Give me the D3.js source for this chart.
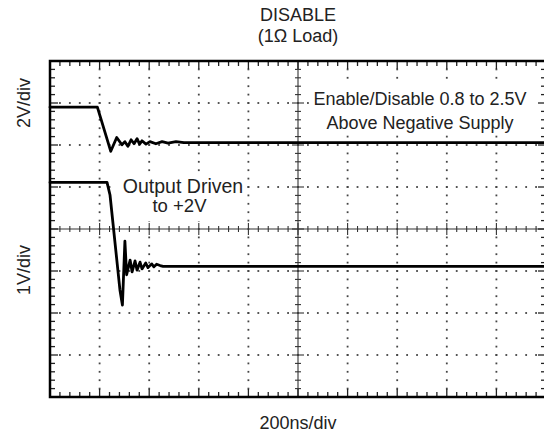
<!DOCTYPE html>
<html><head><meta charset="utf-8">
<script src="https://cdn.jsdelivr.net/npm/d3@7"></script>
<style>
body{margin:0;background:#fff}
svg{display:block}
text{font-family:"Liberation Sans",Arial,Helvetica,sans-serif;fill:#222}
</style>
</head><body>
<svg id="c" width="544" height="435"></svg>
<script>
// ---- chart data ----
const titleLines = ["DISABLE", "(1Ω Load)"];
const xLabel = "200ns/div";
const yLabels = ["2V/div", "1V/div"];
const nsPerDiv = 200;
const xDivs = 10;
const yDivs = 8;
const minorPerDiv = 5;

// Enable/Disable input (top trace, 2V/div)
const topTimeNs = [0, 191, 245, 269, 290, 302, 314, 327, 339, 351, 361, 371, 387, 403, 427, 452, 476, 508, 540, 573, 2000];
const topVolts  = [2.5, 2.5, 0.40, 1.06, 0.71, 0.86, 0.64, 0.95, 0.76, 1.00, 0.74, 0.90, 0.74, 0.86, 0.76, 0.86, 0.79, 0.86, 0.81, 0.81, 0.81];
const topVoltsPerDiv = 2;
const topOffsetDiv = 1.65;

// Output (bottom trace, 1V/div)
const botTimeNs = [0, 230, 242, 282, 292, 302, 309, 323, 331, 343, 351, 363, 371, 386, 395, 410, 419, 430, 444, 456, 2000];
const botVolts  = [2.0, 2.0, 1.70, -0.56, -0.92, 0.60, -0.20, 0.15, -0.13, 0.13, -0.09, 0.10, -0.06, 0.08, -0.03, 0.06, -0.01, 0.05, 0.02, 0, 0];
const botVoltsPerDiv = 1;
const botOffsetDiv = -0.89;

const noteA = ["Enable/Disable 0.8 to 2.5V", "Above Negative Supply"];
const noteB = ["Output Driven", "to +2V"];

// ---- drawing ----
const svg = d3.select("#c");
const x = d3.scaleLinear().domain([0, nsPerDiv * xDivs]).range([50, 546]);
const y = d3.scaleLinear().domain([-yDivs / 2, yDivs / 2]).range([397, 61]);
const [x0, x1] = x.range();
const [y0, y1] = y.range(); // y0 bottom, y1 top

const xMajor = d3.range(0, nsPerDiv * xDivs + 1, nsPerDiv);
const xMinor = d3.range(0, nsPerDiv * xDivs + 1, nsPerDiv / minorPerDiv);
const yMajor = d3.range(-yDivs / 2, yDivs / 2 + 0.001, 1);
const yMinor = d3.range(-yDivs / 2, yDivs / 2 + 0.001, 1 / minorPerDiv);
const xMid = nsPerDiv * xDivs / 2;

// grid dots
const dots = [];
xMajor.filter(v => v > 0 && v < nsPerDiv * xDivs && v !== xMid).forEach(xv => {
  yMinor.forEach(yv => dots.push([x(xv), y(yv)]));
});
yMajor.filter(v => v > -yDivs / 2 && v < yDivs / 2 && v !== 0).forEach(yv => {
  xMinor.forEach(xv => dots.push([x(xv), y(yv)]));
});
svg.append("g").selectAll("rect").data(dots).join("rect")
  .attr("x", d => d[0] - 0.9).attr("y", d => d[1] - 0.9)
  .attr("width", 1.8).attr("height", 1.8).attr("fill", "#444");

// center axes with cross ticks
const g = svg.append("g").attr("stroke", "#333").attr("stroke-width", 1.1);
g.append("line").attr("x1", x(xMid)).attr("x2", x(xMid)).attr("y1", y1).attr("y2", y0);
g.append("line").attr("x1", x0).attr("x2", x1).attr("y1", y(0)).attr("y2", y(0));
const isMajorX = v => Math.abs(v / nsPerDiv - Math.round(v / nsPerDiv)) < 1e-6;
const isMajorY = v => Math.abs(v - Math.round(v)) < 1e-6;
g.selectAll(".cx").data(xMinor).join("line")
  .attr("x1", d => x(d)).attr("x2", d => x(d))
  .attr("y1", d => y(0) - (isMajorX(d) ? 6 : 3)).attr("y2", d => y(0) + (isMajorX(d) ? 6 : 3));
g.selectAll(".cy").data(yMinor).join("line")
  .attr("y1", d => y(d)).attr("y2", d => y(d))
  .attr("x1", d => x(xMid) - (isMajorY(d) ? 6 : 3)).attr("x2", d => x(xMid) + (isMajorY(d) ? 6 : 3));

// frame ticks (inward)
const ft = svg.append("g").attr("stroke", "#222").attr("stroke-width", 1.3);
xMinor.forEach(v => {
  const L = isMajorX(v) ? 8 : 5;
  ft.append("line").attr("x1", x(v)).attr("x2", x(v)).attr("y1", y1).attr("y2", y1 + L);
  ft.append("line").attr("x1", x(v)).attr("x2", x(v)).attr("y1", y0).attr("y2", y0 - L);
});
yMinor.forEach(v => {
  const L = isMajorY(v) ? 8 : 5;
  ft.append("line").attr("y1", y(v)).attr("y2", y(v)).attr("x1", x0).attr("x2", x0 + L);
  ft.append("line").attr("y1", y(v)).attr("y2", y(v)).attr("x1", x1).attr("x2", x1 - L);
});

// annotation backgrounds
svg.append("rect").attr("x", 309).attr("y", 84).attr("width", 228).attr("height", 50).attr("fill", "#fff");
svg.append("rect").attr("x", 118).attr("y", 172).attr("width", 128).attr("height", 49).attr("fill", "#fff");

// frame
svg.append("rect").attr("x", x0).attr("y", y1).attr("width", x1 - x0).attr("height", y0 - y1)
  .attr("fill", "none").attr("stroke", "#000").attr("stroke-width", 2.5);

// traces
const topLine = d3.line()
  .x((d, i) => x(topTimeNs[i]))
  .y(d => y(topOffsetDiv + d / topVoltsPerDiv));
const botLine = d3.line()
  .x((d, i) => x(botTimeNs[i]))
  .y(d => y(botOffsetDiv + d / botVoltsPerDiv));
svg.append("path").attr("d", topLine(topVolts)).attr("fill", "none").attr("stroke", "#000")
  .attr("stroke-width", 2.8).attr("stroke-linejoin", "round").attr("stroke-linecap", "round");
svg.append("path").attr("d", botLine(botVolts)).attr("fill", "none").attr("stroke", "#000")
  .attr("stroke-width", 2.8).attr("stroke-linejoin", "round").attr("stroke-linecap", "round");

// texts
const fs = "18px";
svg.append("text").attr("x", 298).attr("y", 20.5).attr("text-anchor", "middle").style("font-size", fs).text(titleLines[0]);
svg.append("text").attr("x", 298).attr("y", 42).attr("text-anchor", "middle").style("font-size", fs).text(titleLines[1]);
svg.append("text").attr("x", 298).attr("y", 429).attr("text-anchor", "middle").style("font-size", fs).text(xLabel);
svg.append("text").attr("transform", "translate(30,103) rotate(-90)").attr("text-anchor", "middle").style("font-size", fs).text(yLabels[0]);
svg.append("text").attr("transform", "translate(30,270) rotate(-90)").attr("text-anchor", "middle").style("font-size", fs).text(yLabels[1]);
svg.append("text").attr("x", 420).attr("y", 105).attr("text-anchor", "middle").style("font-size", fs).text(noteA[0]);
svg.append("text").attr("x", 420).attr("y", 129).attr("text-anchor", "middle").style("font-size", fs).text(noteA[1]);
svg.append("text").attr("x", 183).attr("y", 193).attr("text-anchor", "middle").style("font-size", "19.5px").text(noteB[0]);
svg.append("text").attr("x", 179.5).attr("y", 212).attr("text-anchor", "middle").style("font-size", "18.5px").text(noteB[1]);
</script>
</body></html>
